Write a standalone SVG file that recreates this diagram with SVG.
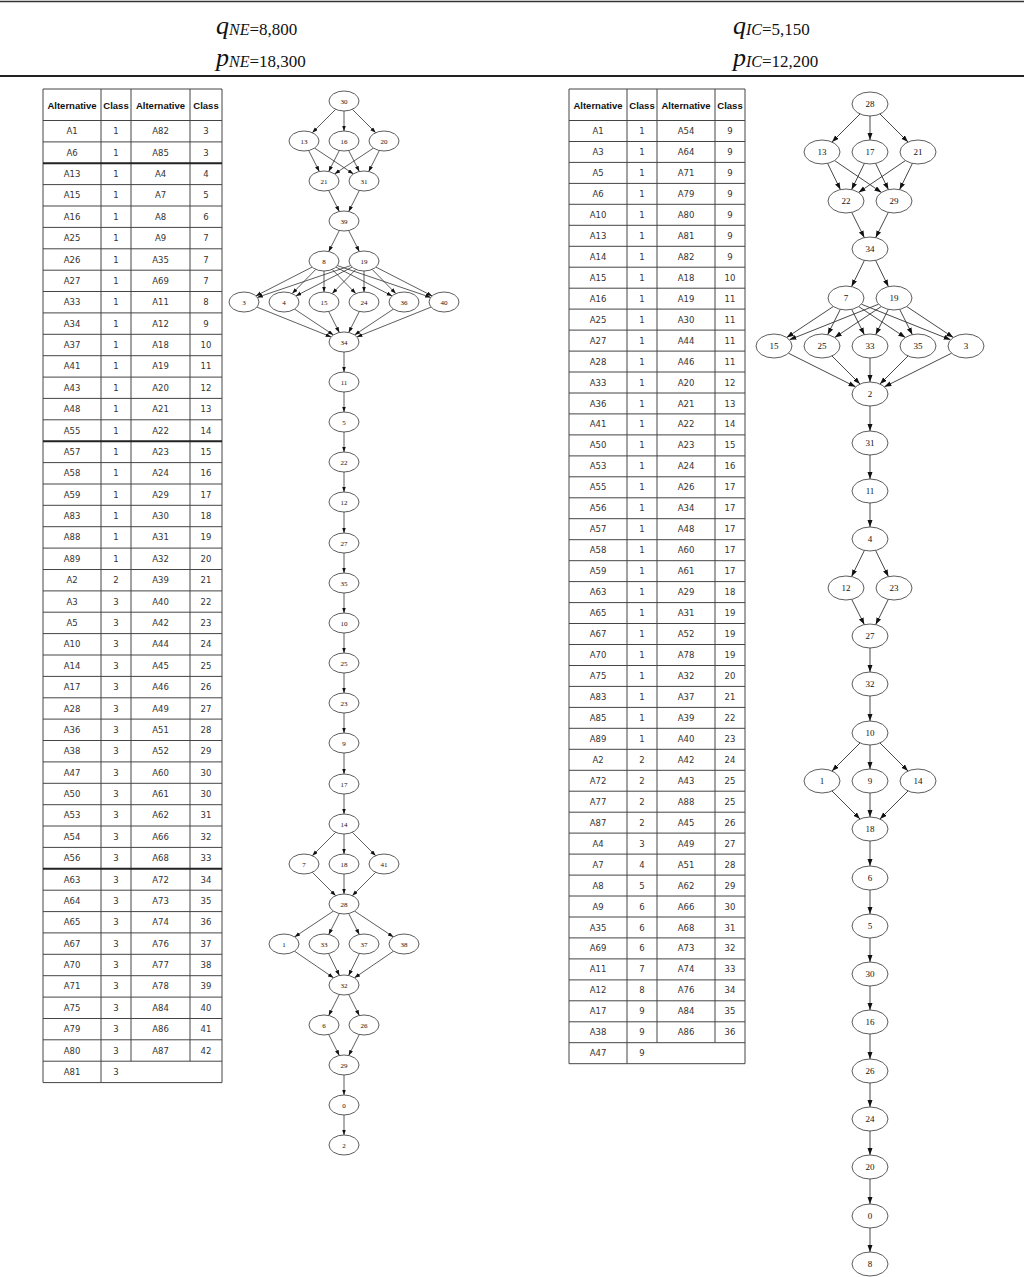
<svg xmlns="http://www.w3.org/2000/svg" width="1024" height="1277" viewBox="0 0 1024 1277">
<style>
.hd{font-family:"Liberation Serif",serif;fill:#111}
.it{font-style:italic}
.grid{stroke:#444;stroke-width:1;fill:none}
.thick{stroke:#222;stroke-width:2;fill:none}
.th{font-family:"Liberation Sans",Arial,sans-serif;font-weight:bold;font-size:9.5px;text-anchor:middle;fill:#111}
.t text{font-family:"DejaVu Sans",Verdana,sans-serif;font-size:8.5px;text-anchor:middle;fill:#333}
.nL ellipse,.nR ellipse{fill:#fff;stroke:#333;stroke-width:0.8}
.nL text{font-family:"Liberation Serif",serif;font-size:7px;text-anchor:middle;fill:#111}
.nR text{font-family:"Liberation Serif",serif;font-size:9px;text-anchor:middle;fill:#111}
.eL line{stroke:#333;stroke-width:0.8;marker-end:url(#aL)}
.eR line{stroke:#333;stroke-width:0.9;marker-end:url(#aR)}
</style>
<defs>
<marker id="aL" markerUnits="userSpaceOnUse" markerWidth="6" markerHeight="5" refX="5.5" refY="2" orient="auto"><path d="M0,0 L5.5,2 L0,4 z" fill="#111"/></marker>
<marker id="aR" markerUnits="userSpaceOnUse" markerWidth="8" markerHeight="6" refX="7" refY="2.5" orient="auto"><path d="M0,0 L7,2.5 L0,5 z" fill="#111"/></marker>
</defs>
<rect width="1024" height="1277" fill="#fff"/>

<!-- header -->
<g id="header">
<line x1="0" y1="1.5" x2="1024" y2="1.5" stroke="#333" stroke-width="1.5"/>
<line x1="0" y1="76" x2="1024" y2="76" stroke="#222" stroke-width="2"/>
<text class="hd" x="216" y="34"><tspan class="it" font-size="26">q</tspan><tspan class="it" font-size="16" dy="1">NE</tspan><tspan font-size="17">=8,800</tspan></text>
<text class="hd" x="216" y="66"><tspan class="it" font-size="26">p</tspan><tspan class="it" font-size="16" dy="1">NE</tspan><tspan font-size="17">=18,300</tspan></text>
<text class="hd" x="733" y="34"><tspan class="it" font-size="26">q</tspan><tspan class="it" font-size="16" dy="1">IC</tspan><tspan font-size="17">=5,150</tspan></text>
<text class="hd" x="733" y="66"><tspan class="it" font-size="26">p</tspan><tspan class="it" font-size="16" dy="1">IC</tspan><tspan font-size="17">=12,200</tspan></text>
</g>

<!-- left table -->
<g id="tableNE">
<path class="grid" d="M43,89H222M43,120.5H222M43,141.9H222M43,184.6H222M43,206H222M43,227.4H222M43,248.8H222M43,270.2H222M43,291.5H222M43,312.9H222M43,334.3H222M43,355.7H222M43,377.1H222M43,398.4H222M43,419.8H222M43,462.6H222M43,484H222M43,505.3H222M43,526.7H222M43,548.1H222M43,569.5H222M43,590.9H222M43,612.2H222M43,633.6H222M43,655H222M43,676.4H222M43,697.8H222M43,719.1H222M43,740.5H222M43,761.9H222M43,783.3H222M43,804.7H222M43,826H222M43,847.4H222M43,890.2H222M43,911.6H222M43,932.9H222M43,954.3H222M43,975.7H222M43,997.1H222M43,1018.5H222M43,1039.8H222M43,1061.2H222M43,1082.6H222M43,89V1082.6M101,89V1082.6M131,89V1061.2M190,89V1061.2M222,89V1082.6"/>
<path class="thick" d="M43,163.3H222M43,441.2H222M43,868.8H222"/>
<text class="th" x="72" y="108.5">Alternative</text><text class="th" x="116" y="108.5">Class</text><text class="th" x="160.5" y="108.5">Alternative</text><text class="th" x="206" y="108.5">Class</text>
<g class="t">
<text x="72" y="134.2">A1</text><text x="116" y="134.2">1</text><text x="160.5" y="134.2">A82</text><text x="206" y="134.2">3</text>
<text x="72" y="155.6">A6</text><text x="116" y="155.6">1</text><text x="160.5" y="155.6">A85</text><text x="206" y="155.6">3</text>
<text x="72" y="177">A13</text><text x="116" y="177">1</text><text x="160.5" y="177">A4</text><text x="206" y="177">4</text>
<text x="72" y="198.3">A15</text><text x="116" y="198.3">1</text><text x="160.5" y="198.3">A7</text><text x="206" y="198.3">5</text>
<text x="72" y="219.7">A16</text><text x="116" y="219.7">1</text><text x="160.5" y="219.7">A8</text><text x="206" y="219.7">6</text>
<text x="72" y="241.1">A25</text><text x="116" y="241.1">1</text><text x="160.5" y="241.1">A9</text><text x="206" y="241.1">7</text>
<text x="72" y="262.5">A26</text><text x="116" y="262.5">1</text><text x="160.5" y="262.5">A35</text><text x="206" y="262.5">7</text>
<text x="72" y="283.9">A27</text><text x="116" y="283.9">1</text><text x="160.5" y="283.9">A69</text><text x="206" y="283.9">7</text>
<text x="72" y="305.2">A33</text><text x="116" y="305.2">1</text><text x="160.5" y="305.2">A11</text><text x="206" y="305.2">8</text>
<text x="72" y="326.6">A34</text><text x="116" y="326.6">1</text><text x="160.5" y="326.6">A12</text><text x="206" y="326.6">9</text>
<text x="72" y="348">A37</text><text x="116" y="348">1</text><text x="160.5" y="348">A18</text><text x="206" y="348">10</text>
<text x="72" y="369.4">A41</text><text x="116" y="369.4">1</text><text x="160.5" y="369.4">A19</text><text x="206" y="369.4">11</text>
<text x="72" y="390.8">A43</text><text x="116" y="390.8">1</text><text x="160.5" y="390.8">A20</text><text x="206" y="390.8">12</text>
<text x="72" y="412.1">A48</text><text x="116" y="412.1">1</text><text x="160.5" y="412.1">A21</text><text x="206" y="412.1">13</text>
<text x="72" y="433.5">A55</text><text x="116" y="433.5">1</text><text x="160.5" y="433.5">A22</text><text x="206" y="433.5">14</text>
<text x="72" y="454.9">A57</text><text x="116" y="454.9">1</text><text x="160.5" y="454.9">A23</text><text x="206" y="454.9">15</text>
<text x="72" y="476.3">A58</text><text x="116" y="476.3">1</text><text x="160.5" y="476.3">A24</text><text x="206" y="476.3">16</text>
<text x="72" y="497.7">A59</text><text x="116" y="497.7">1</text><text x="160.5" y="497.7">A29</text><text x="206" y="497.7">17</text>
<text x="72" y="519">A83</text><text x="116" y="519">1</text><text x="160.5" y="519">A30</text><text x="206" y="519">18</text>
<text x="72" y="540.4">A88</text><text x="116" y="540.4">1</text><text x="160.5" y="540.4">A31</text><text x="206" y="540.4">19</text>
<text x="72" y="561.8">A89</text><text x="116" y="561.8">1</text><text x="160.5" y="561.8">A32</text><text x="206" y="561.8">20</text>
<text x="72" y="583.2">A2</text><text x="116" y="583.2">2</text><text x="160.5" y="583.2">A39</text><text x="206" y="583.2">21</text>
<text x="72" y="604.6">A3</text><text x="116" y="604.6">3</text><text x="160.5" y="604.6">A40</text><text x="206" y="604.6">22</text>
<text x="72" y="625.9">A5</text><text x="116" y="625.9">3</text><text x="160.5" y="625.9">A42</text><text x="206" y="625.9">23</text>
<text x="72" y="647.3">A10</text><text x="116" y="647.3">3</text><text x="160.5" y="647.3">A44</text><text x="206" y="647.3">24</text>
<text x="72" y="668.7">A14</text><text x="116" y="668.7">3</text><text x="160.5" y="668.7">A45</text><text x="206" y="668.7">25</text>
<text x="72" y="690.1">A17</text><text x="116" y="690.1">3</text><text x="160.5" y="690.1">A46</text><text x="206" y="690.1">26</text>
<text x="72" y="711.5">A28</text><text x="116" y="711.5">3</text><text x="160.5" y="711.5">A49</text><text x="206" y="711.5">27</text>
<text x="72" y="732.8">A36</text><text x="116" y="732.8">3</text><text x="160.5" y="732.8">A51</text><text x="206" y="732.8">28</text>
<text x="72" y="754.2">A38</text><text x="116" y="754.2">3</text><text x="160.5" y="754.2">A52</text><text x="206" y="754.2">29</text>
<text x="72" y="775.6">A47</text><text x="116" y="775.6">3</text><text x="160.5" y="775.6">A60</text><text x="206" y="775.6">30</text>
<text x="72" y="797">A50</text><text x="116" y="797">3</text><text x="160.5" y="797">A61</text><text x="206" y="797">30</text>
<text x="72" y="818.4">A53</text><text x="116" y="818.4">3</text><text x="160.5" y="818.4">A62</text><text x="206" y="818.4">31</text>
<text x="72" y="839.7">A54</text><text x="116" y="839.7">3</text><text x="160.5" y="839.7">A66</text><text x="206" y="839.7">32</text>
<text x="72" y="861.1">A56</text><text x="116" y="861.1">3</text><text x="160.5" y="861.1">A68</text><text x="206" y="861.1">33</text>
<text x="72" y="882.5">A63</text><text x="116" y="882.5">3</text><text x="160.5" y="882.5">A72</text><text x="206" y="882.5">34</text>
<text x="72" y="903.9">A64</text><text x="116" y="903.9">3</text><text x="160.5" y="903.9">A73</text><text x="206" y="903.9">35</text>
<text x="72" y="925.3">A65</text><text x="116" y="925.3">3</text><text x="160.5" y="925.3">A74</text><text x="206" y="925.3">36</text>
<text x="72" y="946.6">A67</text><text x="116" y="946.6">3</text><text x="160.5" y="946.6">A76</text><text x="206" y="946.6">37</text>
<text x="72" y="968">A70</text><text x="116" y="968">3</text><text x="160.5" y="968">A77</text><text x="206" y="968">38</text>
<text x="72" y="989.4">A71</text><text x="116" y="989.4">3</text><text x="160.5" y="989.4">A78</text><text x="206" y="989.4">39</text>
<text x="72" y="1010.8">A75</text><text x="116" y="1010.8">3</text><text x="160.5" y="1010.8">A84</text><text x="206" y="1010.8">40</text>
<text x="72" y="1032.2">A79</text><text x="116" y="1032.2">3</text><text x="160.5" y="1032.2">A86</text><text x="206" y="1032.2">41</text>
<text x="72" y="1053.5">A80</text><text x="116" y="1053.5">3</text><text x="160.5" y="1053.5">A87</text><text x="206" y="1053.5">42</text>
<text x="72" y="1074.9">A81</text><text x="116" y="1074.9">3</text>
</g>
</g>

<!-- right table -->
<g id="tableIC">
<path class="grid" d="M569,89H745M569,120.5H745M569,141.5H745M569,162.4H745M569,183.4H745M569,204.3H745M569,225.3H745M569,246.3H745M569,267.2H745M569,288.2H745M569,309.1H745M569,330.1H745M569,351.1H745M569,372H745M569,393H745M569,413.9H745M569,434.9H745M569,455.9H745M569,476.8H745M569,497.8H745M569,518.7H745M569,539.7H745M569,560.7H745M569,581.6H745M569,602.6H745M569,623.5H745M569,644.5H745M569,665.5H745M569,686.4H745M569,707.4H745M569,728.3H745M569,749.3H745M569,770.3H745M569,791.2H745M569,812.2H745M569,833.1H745M569,854.1H745M569,875.1H745M569,896H745M569,917H745M569,937.9H745M569,958.9H745M569,979.9H745M569,1000.8H745M569,1021.8H745M569,1042.7H745M569,1063.7H745M569,89V1063.7M627,89V1063.7M657,89V1042.7M715,89V1042.7M745,89V1063.7"/>
<text class="th" x="598" y="108.5">Alternative</text><text class="th" x="642" y="108.5">Class</text><text class="th" x="686" y="108.5">Alternative</text><text class="th" x="730" y="108.5">Class</text>
<g class="t">
<text x="598" y="134">A1</text><text x="642" y="134">1</text><text x="686" y="134">A54</text><text x="730" y="134">9</text>
<text x="598" y="155">A3</text><text x="642" y="155">1</text><text x="686" y="155">A64</text><text x="730" y="155">9</text>
<text x="598" y="175.9">A5</text><text x="642" y="175.9">1</text><text x="686" y="175.9">A71</text><text x="730" y="175.9">9</text>
<text x="598" y="196.9">A6</text><text x="642" y="196.9">1</text><text x="686" y="196.9">A79</text><text x="730" y="196.9">9</text>
<text x="598" y="217.8">A10</text><text x="642" y="217.8">1</text><text x="686" y="217.8">A80</text><text x="730" y="217.8">9</text>
<text x="598" y="238.8">A13</text><text x="642" y="238.8">1</text><text x="686" y="238.8">A81</text><text x="730" y="238.8">9</text>
<text x="598" y="259.8">A14</text><text x="642" y="259.8">1</text><text x="686" y="259.8">A82</text><text x="730" y="259.8">9</text>
<text x="598" y="280.7">A15</text><text x="642" y="280.7">1</text><text x="686" y="280.7">A18</text><text x="730" y="280.7">10</text>
<text x="598" y="301.7">A16</text><text x="642" y="301.7">1</text><text x="686" y="301.7">A19</text><text x="730" y="301.7">11</text>
<text x="598" y="322.6">A25</text><text x="642" y="322.6">1</text><text x="686" y="322.6">A30</text><text x="730" y="322.6">11</text>
<text x="598" y="343.6">A27</text><text x="642" y="343.6">1</text><text x="686" y="343.6">A44</text><text x="730" y="343.6">11</text>
<text x="598" y="364.6">A28</text><text x="642" y="364.6">1</text><text x="686" y="364.6">A46</text><text x="730" y="364.6">11</text>
<text x="598" y="385.5">A33</text><text x="642" y="385.5">1</text><text x="686" y="385.5">A20</text><text x="730" y="385.5">12</text>
<text x="598" y="406.5">A36</text><text x="642" y="406.5">1</text><text x="686" y="406.5">A21</text><text x="730" y="406.5">13</text>
<text x="598" y="427.4">A41</text><text x="642" y="427.4">1</text><text x="686" y="427.4">A22</text><text x="730" y="427.4">14</text>
<text x="598" y="448.4">A50</text><text x="642" y="448.4">1</text><text x="686" y="448.4">A23</text><text x="730" y="448.4">15</text>
<text x="598" y="469.4">A53</text><text x="642" y="469.4">1</text><text x="686" y="469.4">A24</text><text x="730" y="469.4">16</text>
<text x="598" y="490.3">A55</text><text x="642" y="490.3">1</text><text x="686" y="490.3">A26</text><text x="730" y="490.3">17</text>
<text x="598" y="511.3">A56</text><text x="642" y="511.3">1</text><text x="686" y="511.3">A34</text><text x="730" y="511.3">17</text>
<text x="598" y="532.2">A57</text><text x="642" y="532.2">1</text><text x="686" y="532.2">A48</text><text x="730" y="532.2">17</text>
<text x="598" y="553.2">A58</text><text x="642" y="553.2">1</text><text x="686" y="553.2">A60</text><text x="730" y="553.2">17</text>
<text x="598" y="574.2">A59</text><text x="642" y="574.2">1</text><text x="686" y="574.2">A61</text><text x="730" y="574.2">17</text>
<text x="598" y="595.1">A63</text><text x="642" y="595.1">1</text><text x="686" y="595.1">A29</text><text x="730" y="595.1">18</text>
<text x="598" y="616.1">A65</text><text x="642" y="616.1">1</text><text x="686" y="616.1">A31</text><text x="730" y="616.1">19</text>
<text x="598" y="637">A67</text><text x="642" y="637">1</text><text x="686" y="637">A52</text><text x="730" y="637">19</text>
<text x="598" y="658">A70</text><text x="642" y="658">1</text><text x="686" y="658">A78</text><text x="730" y="658">19</text>
<text x="598" y="679">A75</text><text x="642" y="679">1</text><text x="686" y="679">A32</text><text x="730" y="679">20</text>
<text x="598" y="699.9">A83</text><text x="642" y="699.9">1</text><text x="686" y="699.9">A37</text><text x="730" y="699.9">21</text>
<text x="598" y="720.9">A85</text><text x="642" y="720.9">1</text><text x="686" y="720.9">A39</text><text x="730" y="720.9">22</text>
<text x="598" y="741.8">A89</text><text x="642" y="741.8">1</text><text x="686" y="741.8">A40</text><text x="730" y="741.8">23</text>
<text x="598" y="762.8">A2</text><text x="642" y="762.8">2</text><text x="686" y="762.8">A42</text><text x="730" y="762.8">24</text>
<text x="598" y="783.8">A72</text><text x="642" y="783.8">2</text><text x="686" y="783.8">A43</text><text x="730" y="783.8">25</text>
<text x="598" y="804.7">A77</text><text x="642" y="804.7">2</text><text x="686" y="804.7">A88</text><text x="730" y="804.7">25</text>
<text x="598" y="825.7">A87</text><text x="642" y="825.7">2</text><text x="686" y="825.7">A45</text><text x="730" y="825.7">26</text>
<text x="598" y="846.6">A4</text><text x="642" y="846.6">3</text><text x="686" y="846.6">A49</text><text x="730" y="846.6">27</text>
<text x="598" y="867.6">A7</text><text x="642" y="867.6">4</text><text x="686" y="867.6">A51</text><text x="730" y="867.6">28</text>
<text x="598" y="888.6">A8</text><text x="642" y="888.6">5</text><text x="686" y="888.6">A62</text><text x="730" y="888.6">29</text>
<text x="598" y="909.5">A9</text><text x="642" y="909.5">6</text><text x="686" y="909.5">A66</text><text x="730" y="909.5">30</text>
<text x="598" y="930.5">A35</text><text x="642" y="930.5">6</text><text x="686" y="930.5">A68</text><text x="730" y="930.5">31</text>
<text x="598" y="951.4">A69</text><text x="642" y="951.4">6</text><text x="686" y="951.4">A73</text><text x="730" y="951.4">32</text>
<text x="598" y="972.4">A11</text><text x="642" y="972.4">7</text><text x="686" y="972.4">A74</text><text x="730" y="972.4">33</text>
<text x="598" y="993.4">A12</text><text x="642" y="993.4">8</text><text x="686" y="993.4">A76</text><text x="730" y="993.4">34</text>
<text x="598" y="1014.3">A17</text><text x="642" y="1014.3">9</text><text x="686" y="1014.3">A84</text><text x="730" y="1014.3">35</text>
<text x="598" y="1035.3">A38</text><text x="642" y="1035.3">9</text><text x="686" y="1035.3">A86</text><text x="730" y="1035.3">36</text>
<text x="598" y="1056.2">A47</text><text x="642" y="1056.2">9</text>
</g>
</g>

<!-- left graph connectors -->
<g id="edgesNE" class="eL">
<line x1="335.7" y1="109.3" x2="312.3" y2="132.7"/>
<line x1="344" y1="111" x2="344" y2="131"/>
<line x1="352.3" y1="109.3" x2="375.7" y2="132.7"/>
<line x1="308.7" y1="150.5" x2="319.3" y2="171.5"/>
<line x1="314.6" y1="148.1" x2="353.4" y2="173.9"/>
<line x1="339.3" y1="150.5" x2="328.7" y2="171.5"/>
<line x1="348.7" y1="150.5" x2="359.3" y2="171.5"/>
<line x1="373.4" y1="148.1" x2="334.6" y2="173.9"/>
<line x1="379.3" y1="150.5" x2="368.7" y2="171.5"/>
<line x1="328.7" y1="190.5" x2="339.3" y2="211.5"/>
<line x1="359.3" y1="190.5" x2="348.7" y2="211.5"/>
<line x1="339.3" y1="230.5" x2="328.7" y2="251.5"/>
<line x1="348.7" y1="230.5" x2="359.3" y2="251.5"/>
<line x1="312.1" y1="267.1" x2="255.9" y2="295.9"/>
<line x1="315.8" y1="269.4" x2="292.2" y2="293.6"/>
<line x1="324" y1="271" x2="324" y2="292"/>
<line x1="332.2" y1="269.4" x2="355.8" y2="293.6"/>
<line x1="335.9" y1="267.1" x2="392.1" y2="295.9"/>
<line x1="337.3" y1="265.6" x2="430.7" y2="297.4"/>
<line x1="350.7" y1="265.6" x2="257.3" y2="297.4"/>
<line x1="352.1" y1="267.1" x2="295.9" y2="295.9"/>
<line x1="355.8" y1="269.4" x2="332.2" y2="293.6"/>
<line x1="364" y1="271" x2="364" y2="292"/>
<line x1="372.2" y1="269.4" x2="395.8" y2="293.6"/>
<line x1="375.9" y1="267.1" x2="432.1" y2="295.9"/>
<line x1="256.9" y1="307.1" x2="331.1" y2="336.9"/>
<line x1="294.6" y1="309.1" x2="333.4" y2="334.9"/>
<line x1="328.7" y1="311.5" x2="339.3" y2="332.5"/>
<line x1="359.3" y1="311.5" x2="348.7" y2="332.5"/>
<line x1="393.4" y1="309.1" x2="354.6" y2="334.9"/>
<line x1="431.1" y1="307.1" x2="356.9" y2="336.9"/>
<line x1="344" y1="352" x2="344" y2="372"/>
<line x1="344" y1="392" x2="344" y2="412"/>
<line x1="344" y1="432" x2="344" y2="452"/>
<line x1="344" y1="472" x2="344" y2="492"/>
<line x1="344" y1="512" x2="344" y2="533"/>
<line x1="344" y1="553" x2="344" y2="573"/>
<line x1="344" y1="593" x2="344" y2="613"/>
<line x1="344" y1="633" x2="344" y2="653"/>
<line x1="344" y1="673" x2="344" y2="693"/>
<line x1="344" y1="713" x2="344" y2="733"/>
<line x1="344" y1="753" x2="344" y2="774"/>
<line x1="344" y1="794" x2="344" y2="814"/>
<line x1="335.7" y1="832.3" x2="312.3" y2="855.7"/>
<line x1="344" y1="834" x2="344" y2="854"/>
<line x1="352.3" y1="832.3" x2="375.7" y2="855.7"/>
<line x1="312.3" y1="872.3" x2="335.7" y2="895.7"/>
<line x1="344" y1="874" x2="344" y2="894"/>
<line x1="375.7" y1="872.3" x2="352.3" y2="895.7"/>
<line x1="333.4" y1="911.1" x2="294.6" y2="936.9"/>
<line x1="339.3" y1="913.5" x2="328.7" y2="934.5"/>
<line x1="348.7" y1="913.5" x2="359.3" y2="934.5"/>
<line x1="354.6" y1="911.1" x2="393.4" y2="936.9"/>
<line x1="294.5" y1="951.2" x2="333.5" y2="977.8"/>
<line x1="328.6" y1="953.5" x2="339.4" y2="975.5"/>
<line x1="359.4" y1="953.5" x2="348.6" y2="975.5"/>
<line x1="393.5" y1="951.2" x2="354.5" y2="977.8"/>
<line x1="339.3" y1="994.5" x2="328.7" y2="1015.5"/>
<line x1="348.7" y1="994.5" x2="359.3" y2="1015.5"/>
<line x1="328.7" y1="1034.5" x2="339.3" y2="1055.5"/>
<line x1="359.3" y1="1034.5" x2="348.7" y2="1055.5"/>
<line x1="344" y1="1075" x2="344" y2="1095"/>
<line x1="344" y1="1115" x2="344" y2="1135"/>
</g>

<!-- left graph nodes -->
<g class="nL">
<g id="L30"><ellipse cx="344" cy="101" rx="15" ry="10"/><text x="344" y="103.5">30</text></g>
<g id="L13"><ellipse cx="304" cy="141" rx="15" ry="10"/><text x="304" y="143.5">13</text></g>
<g id="L16"><ellipse cx="344" cy="141" rx="15" ry="10"/><text x="344" y="143.5">16</text></g>
<g id="L20"><ellipse cx="384" cy="141" rx="15" ry="10"/><text x="384" y="143.5">20</text></g>
<g id="L21"><ellipse cx="324" cy="181" rx="15" ry="10"/><text x="324" y="183.5">21</text></g>
<g id="L31"><ellipse cx="364" cy="181" rx="15" ry="10"/><text x="364" y="183.5">31</text></g>
<g id="L39"><ellipse cx="344" cy="221" rx="15" ry="10"/><text x="344" y="223.5">39</text></g>
<g id="L8"><ellipse cx="324" cy="261" rx="15" ry="10"/><text x="324" y="263.5">8</text></g>
<g id="L19"><ellipse cx="364" cy="261" rx="15" ry="10"/><text x="364" y="263.5">19</text></g>
<g id="L3"><ellipse cx="244" cy="302" rx="15" ry="10"/><text x="244" y="304.5">3</text></g>
<g id="L4"><ellipse cx="284" cy="302" rx="15" ry="10"/><text x="284" y="304.5">4</text></g>
<g id="L15"><ellipse cx="324" cy="302" rx="15" ry="10"/><text x="324" y="304.5">15</text></g>
<g id="L24"><ellipse cx="364" cy="302" rx="15" ry="10"/><text x="364" y="304.5">24</text></g>
<g id="L36"><ellipse cx="404" cy="302" rx="15" ry="10"/><text x="404" y="304.5">36</text></g>
<g id="L40"><ellipse cx="444" cy="302" rx="15" ry="10"/><text x="444" y="304.5">40</text></g>
<g id="L34"><ellipse cx="344" cy="342" rx="15" ry="10"/><text x="344" y="344.5">34</text></g>
<g id="L11"><ellipse cx="344" cy="382" rx="15" ry="10"/><text x="344" y="384.5">11</text></g>
<g id="L5"><ellipse cx="344" cy="422" rx="15" ry="10"/><text x="344" y="424.5">5</text></g>
<g id="L22"><ellipse cx="344" cy="462" rx="15" ry="10"/><text x="344" y="464.5">22</text></g>
<g id="L12"><ellipse cx="344" cy="502" rx="15" ry="10"/><text x="344" y="504.5">12</text></g>
<g id="L27"><ellipse cx="344" cy="543" rx="15" ry="10"/><text x="344" y="545.5">27</text></g>
<g id="L35"><ellipse cx="344" cy="583" rx="15" ry="10"/><text x="344" y="585.5">35</text></g>
<g id="L10"><ellipse cx="344" cy="623" rx="15" ry="10"/><text x="344" y="625.5">10</text></g>
<g id="L25"><ellipse cx="344" cy="663" rx="15" ry="10"/><text x="344" y="665.5">25</text></g>
<g id="L23"><ellipse cx="344" cy="703" rx="15" ry="10"/><text x="344" y="705.5">23</text></g>
<g id="L9"><ellipse cx="344" cy="743" rx="15" ry="10"/><text x="344" y="745.5">9</text></g>
<g id="L17"><ellipse cx="344" cy="784" rx="15" ry="10"/><text x="344" y="786.5">17</text></g>
<g id="L14"><ellipse cx="344" cy="824" rx="15" ry="10"/><text x="344" y="826.5">14</text></g>
<g id="L7"><ellipse cx="304" cy="864" rx="15" ry="10"/><text x="304" y="866.5">7</text></g>
<g id="L18"><ellipse cx="344" cy="864" rx="15" ry="10"/><text x="344" y="866.5">18</text></g>
<g id="L41"><ellipse cx="384" cy="864" rx="15" ry="10"/><text x="384" y="866.5">41</text></g>
<g id="L28"><ellipse cx="344" cy="904" rx="15" ry="10"/><text x="344" y="906.5">28</text></g>
<g id="L1"><ellipse cx="284" cy="944" rx="15" ry="10"/><text x="284" y="946.5">1</text></g>
<g id="L33"><ellipse cx="324" cy="944" rx="15" ry="10"/><text x="324" y="946.5">33</text></g>
<g id="L37"><ellipse cx="364" cy="944" rx="15" ry="10"/><text x="364" y="946.5">37</text></g>
<g id="L38"><ellipse cx="404" cy="944" rx="15" ry="10"/><text x="404" y="946.5">38</text></g>
<g id="L32"><ellipse cx="344" cy="985" rx="15" ry="10"/><text x="344" y="987.5">32</text></g>
<g id="L6"><ellipse cx="324" cy="1025" rx="15" ry="10"/><text x="324" y="1027.5">6</text></g>
<g id="L26"><ellipse cx="364" cy="1025" rx="15" ry="10"/><text x="364" y="1027.5">26</text></g>
<g id="L29"><ellipse cx="344" cy="1065" rx="15" ry="10"/><text x="344" y="1067.5">29</text></g>
<g id="L0"><ellipse cx="344" cy="1105" rx="15" ry="10"/><text x="344" y="1107.5">0</text></g>
<g id="L2"><ellipse cx="344" cy="1145" rx="15" ry="10"/><text x="344" y="1147.5">2</text></g>
</g>

<!-- right graph connectors -->
<g id="edgesIC" class="eR">
<line x1="860" y1="114" x2="832" y2="142"/>
<line x1="870" y1="116" x2="870" y2="140"/>
<line x1="880" y1="114" x2="908" y2="142"/>
<line x1="827.6" y1="163.4" x2="840.4" y2="189.6"/>
<line x1="834.6" y1="160.6" x2="881.4" y2="192.4"/>
<line x1="864.4" y1="163.4" x2="851.6" y2="189.6"/>
<line x1="875.6" y1="163.4" x2="888.4" y2="189.6"/>
<line x1="905.4" y1="160.6" x2="858.6" y2="192.4"/>
<line x1="912.4" y1="163.4" x2="899.6" y2="189.6"/>
<line x1="851.7" y1="212.4" x2="864.3" y2="237.6"/>
<line x1="888.3" y1="212.4" x2="875.7" y2="237.6"/>
<line x1="864.4" y1="260.4" x2="851.6" y2="286.6"/>
<line x1="875.6" y1="260.4" x2="888.4" y2="286.6"/>
<line x1="833.3" y1="306.5" x2="786.7" y2="337.5"/>
<line x1="840.3" y1="309.4" x2="827.7" y2="334.6"/>
<line x1="851.7" y1="309.4" x2="864.3" y2="334.6"/>
<line x1="858.7" y1="306.5" x2="905.3" y2="337.5"/>
<line x1="861.4" y1="304.2" x2="950.6" y2="339.8"/>
<line x1="878.6" y1="304.2" x2="789.4" y2="339.8"/>
<line x1="881.3" y1="306.5" x2="834.7" y2="337.5"/>
<line x1="888.3" y1="309.4" x2="875.7" y2="334.6"/>
<line x1="899.7" y1="309.4" x2="912.3" y2="334.6"/>
<line x1="906.7" y1="306.5" x2="953.3" y2="337.5"/>
<line x1="788.4" y1="353.2" x2="855.6" y2="386.8"/>
<line x1="832" y1="356" x2="860" y2="384"/>
<line x1="870" y1="358" x2="870" y2="382"/>
<line x1="908" y1="356" x2="880" y2="384"/>
<line x1="951.6" y1="353.2" x2="884.4" y2="386.8"/>
<line x1="870" y1="406" x2="870" y2="431"/>
<line x1="870" y1="455" x2="870" y2="479"/>
<line x1="870" y1="503" x2="870" y2="527"/>
<line x1="864.4" y1="550.4" x2="851.6" y2="576.6"/>
<line x1="875.6" y1="550.4" x2="888.4" y2="576.6"/>
<line x1="851.7" y1="599.4" x2="864.3" y2="624.6"/>
<line x1="888.3" y1="599.4" x2="875.7" y2="624.6"/>
<line x1="870" y1="648" x2="870" y2="672"/>
<line x1="870" y1="696" x2="870" y2="721"/>
<line x1="860" y1="743" x2="832" y2="771"/>
<line x1="870" y1="745" x2="870" y2="769"/>
<line x1="880" y1="743" x2="908" y2="771"/>
<line x1="832" y1="791" x2="860" y2="819"/>
<line x1="870" y1="793" x2="870" y2="817"/>
<line x1="908" y1="791" x2="880" y2="819"/>
<line x1="870" y1="841" x2="870" y2="866"/>
<line x1="870" y1="890" x2="870" y2="914"/>
<line x1="870" y1="938" x2="870" y2="962"/>
<line x1="870" y1="986" x2="870" y2="1010"/>
<line x1="870" y1="1034" x2="870" y2="1059"/>
<line x1="870" y1="1083" x2="870" y2="1107"/>
<line x1="870" y1="1131" x2="870" y2="1155"/>
<line x1="870" y1="1179" x2="870" y2="1204"/>
<line x1="870" y1="1228" x2="870" y2="1252"/>
</g>

<!-- right graph nodes -->
<g class="nR">
<g id="R28"><ellipse cx="870" cy="104" rx="18" ry="12"/><text x="870" y="107">28</text></g>
<g id="R13"><ellipse cx="822" cy="152" rx="18" ry="12"/><text x="822" y="155">13</text></g>
<g id="R17"><ellipse cx="870" cy="152" rx="18" ry="12"/><text x="870" y="155">17</text></g>
<g id="R21"><ellipse cx="918" cy="152" rx="18" ry="12"/><text x="918" y="155">21</text></g>
<g id="R22"><ellipse cx="846" cy="201" rx="18" ry="12"/><text x="846" y="204">22</text></g>
<g id="R29"><ellipse cx="894" cy="201" rx="18" ry="12"/><text x="894" y="204">29</text></g>
<g id="R34"><ellipse cx="870" cy="249" rx="18" ry="12"/><text x="870" y="252">34</text></g>
<g id="R7"><ellipse cx="846" cy="298" rx="18" ry="12"/><text x="846" y="301">7</text></g>
<g id="R19"><ellipse cx="894" cy="298" rx="18" ry="12"/><text x="894" y="301">19</text></g>
<g id="R15"><ellipse cx="774" cy="346" rx="18" ry="12"/><text x="774" y="349">15</text></g>
<g id="R25"><ellipse cx="822" cy="346" rx="18" ry="12"/><text x="822" y="349">25</text></g>
<g id="R33"><ellipse cx="870" cy="346" rx="18" ry="12"/><text x="870" y="349">33</text></g>
<g id="R35"><ellipse cx="918" cy="346" rx="18" ry="12"/><text x="918" y="349">35</text></g>
<g id="R3"><ellipse cx="966" cy="346" rx="18" ry="12"/><text x="966" y="349">3</text></g>
<g id="R2"><ellipse cx="870" cy="394" rx="18" ry="12"/><text x="870" y="397">2</text></g>
<g id="R31"><ellipse cx="870" cy="443" rx="18" ry="12"/><text x="870" y="446">31</text></g>
<g id="R11"><ellipse cx="870" cy="491" rx="18" ry="12"/><text x="870" y="494">11</text></g>
<g id="R4"><ellipse cx="870" cy="539" rx="18" ry="12"/><text x="870" y="542">4</text></g>
<g id="R12"><ellipse cx="846" cy="588" rx="18" ry="12"/><text x="846" y="591">12</text></g>
<g id="R23"><ellipse cx="894" cy="588" rx="18" ry="12"/><text x="894" y="591">23</text></g>
<g id="R27"><ellipse cx="870" cy="636" rx="18" ry="12"/><text x="870" y="639">27</text></g>
<g id="R32"><ellipse cx="870" cy="684" rx="18" ry="12"/><text x="870" y="687">32</text></g>
<g id="R10"><ellipse cx="870" cy="733" rx="18" ry="12"/><text x="870" y="736">10</text></g>
<g id="R1"><ellipse cx="822" cy="781" rx="18" ry="12"/><text x="822" y="784">1</text></g>
<g id="R9"><ellipse cx="870" cy="781" rx="18" ry="12"/><text x="870" y="784">9</text></g>
<g id="R14"><ellipse cx="918" cy="781" rx="18" ry="12"/><text x="918" y="784">14</text></g>
<g id="R18"><ellipse cx="870" cy="829" rx="18" ry="12"/><text x="870" y="832">18</text></g>
<g id="R6"><ellipse cx="870" cy="878" rx="18" ry="12"/><text x="870" y="881">6</text></g>
<g id="R5"><ellipse cx="870" cy="926" rx="18" ry="12"/><text x="870" y="929">5</text></g>
<g id="R30"><ellipse cx="870" cy="974" rx="18" ry="12"/><text x="870" y="977">30</text></g>
<g id="R16"><ellipse cx="870" cy="1022" rx="18" ry="12"/><text x="870" y="1025">16</text></g>
<g id="R26"><ellipse cx="870" cy="1071" rx="18" ry="12"/><text x="870" y="1074">26</text></g>
<g id="R24"><ellipse cx="870" cy="1119" rx="18" ry="12"/><text x="870" y="1122">24</text></g>
<g id="R20"><ellipse cx="870" cy="1167" rx="18" ry="12"/><text x="870" y="1170">20</text></g>
<g id="R0"><ellipse cx="870" cy="1216" rx="18" ry="12"/><text x="870" y="1219">0</text></g>
<g id="R8"><ellipse cx="870" cy="1264" rx="18" ry="12"/><text x="870" y="1267">8</text></g>
</g>
</svg>
